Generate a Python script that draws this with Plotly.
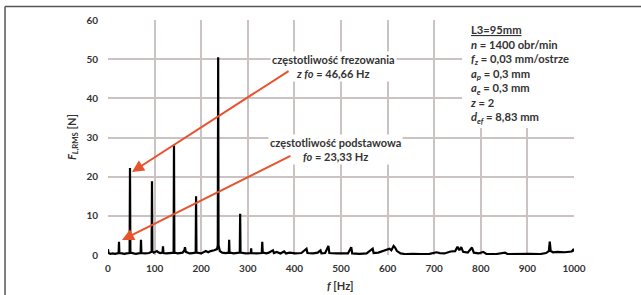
import plotly.graph_objects as go

# Spectrum data (frequency [Hz], amplitude F_L,RMS [N])
freq = [0, 1, 5, 10, 15, 20, 22.8, 23.6, 24.4, 30, 35, 40, 46.4, 47.2, 48, 55, 60, 65, 70, 70.8, 71.6,
        80, 88, 93.6, 94.4, 95.2, 98, 105, 108, 112, 117, 118, 119, 125, 132, 140.8, 141.6, 142.4,
        150, 160, 164, 165.2, 167, 175, 182, 188.2, 189, 189.8, 200, 205, 210, 215, 220, 228, 234,
        235.6, 236.4, 237.2, 240, 245, 252, 259.2, 260, 260.8, 270, 276, 282.8, 283.6, 284.4, 295,
        306.5, 307.2, 308, 318, 330, 331, 332, 340, 345, 354, 356, 362, 370, 378, 382, 390, 402, 415,
        426, 428, 440, 450, 456, 458, 466, 473, 475, 490, 505, 515, 522, 524, 540, 555, 568, 570,
        580, 590, 598, 604, 608, 613, 616, 620, 628, 640, 655, 670, 690, 705, 712, 722, 735, 745,
        750, 754, 758, 762, 772, 781, 785, 795, 805, 812, 830, 852, 858, 880, 905, 925, 940, 946,
        948, 950, 955, 965, 980, 995, 998, 1000]
amp = [1.5, 0.5, 0.3, 0.4, 0.3, 0.4, 0.5, 3.4, 0.5, 0.4, 0.3, 0.4, 0.5, 22.2, 0.6, 0.4, 0.3, 0.4, 0.5, 3.9, 0.5,
       0.4, 0.5, 0.8, 18.8, 1.0, 0.6, 1.0, 0.7, 0.5, 0.6, 2.2, 0.5, 0.4, 0.5, 0.6, 28.0, 0.6,
       0.4, 0.6, 1.2, 2.0, 0.8, 0.4, 0.5, 0.6, 15.0, 0.6, 0.4, 0.8, 1.0, 0.7, 1.0, 1.2, 1.5,
       2.5, 50.5, 2.5, 1.0, 0.6, 0.5, 0.6, 3.9, 0.6, 0.4, 0.5, 0.6, 10.5, 0.6, 0.4,
       0.5, 1.7, 0.5, 0.4, 0.5, 3.4, 0.6, 0.4, 0.6, 1.2, 0.5, 0.8, 0.4, 0.9, 0.4, 0.6, 0.4, 0.5,
       1.6, 0.5, 0.4, 0.6, 1.2, 0.4, 0.5, 2.3, 0.5, 0.4, 0.3, 0.4, 2.0, 0.4, 0.3, 0.4, 1.6, 0.5,
       0.6, 1.0, 1.3, 1.6, 1.2, 2.3, 1.9, 1.0, 0.4, 0.2, 0.3, 0.2, 0.3, 0.7, 0.5, 0.4, 0.9, 1.0,
       2.1, 1.2, 2.0, 0.8, 0.6, 1.9, 0.6, 0.4, 0.8, 0.3, 0.2, 0.6, 0.2, 0.3, 0.3, 0.2, 0.5, 1.0,
       3.4, 1.0, 0.7, 0.8, 0.7, 0.9, 1.3, 0.9]

x_ticks = [0, 100, 200, 300, 400, 500, 600, 700, 800, 900, 1000]
y_ticks = [0, 10, 20, 30, 40, 50, 60]

params = ["<u>L3=95mm</u>",
          "<i>n</i> = 1400 obr/min",
          "<i>f</i><sub><i>z</i></sub> = 0,03 mm/ostrze",
          "<i>a</i><sub><i>p</i></sub> = 0,3 mm",
          "<i>a</i><sub><i>e</i></sub> = 0,3 mm",
          "<i>z</i> = 2",
          "<i>d</i><sub><i>ef</i></sub> = 8,83 mm"]

FONT = "Lato"
TXT = "#333333"
GRID = "#cbc2c2"
RED = "#e8532e"

fig = go.Figure()
fig.add_trace(go.Scatter(x=freq, y=amp, mode="lines",
                         line=dict(color="black", width=2.2), hoverinfo="skip"))

fig.update_layout(
    width=641, height=295,
    margin=dict(l=108, r=67, t=20, b=40),
    paper_bgcolor="white", plot_bgcolor="white",
    showlegend=False,
    font=dict(family=FONT, color=TXT),
    xaxis=dict(range=[0, 1000], tickvals=x_ticks, showgrid=True, gridcolor=GRID, gridwidth=1.8,
               zeroline=False, showline=False, ticks="", ticklabelstandoff=6,
               tickfont=dict(family=FONT, size=10, color=TXT, weight="bold")),
    yaxis=dict(range=[0, 60], tickvals=y_ticks, showgrid=True, gridcolor=GRID, gridwidth=1.8,
               zeroline=False, showline=False, ticks="", ticklabelstandoff=9,
               tickfont=dict(family=FONT, size=10, color=TXT, weight="bold")),
)

# white box behind parameter text (covers gridlines)
fig.add_shape(type="rect", xref="paper", yref="paper", x0=0.7597, x1=1.02, y0=0.54, y1=1.03,
              fillcolor="white", line=dict(width=0), layer="above")

# outer frame (left and top)
fig.add_shape(type="line", xref="paper", yref="paper", x0=-0.221, x1=-0.221, y0=-0.2, y1=1.057,
              line=dict(color="#555555", width=1.5))
fig.add_shape(type="line", xref="paper", yref="paper", x0=-0.221, x1=1.2, y0=1.057, y1=1.057,
              line=dict(color="#555555", width=1.5))

fig.add_annotation(xref="paper", yref="paper", x=0.7725, y=0.997, xanchor="left", yanchor="top",
                   align="left", showarrow=False, text="<br>".join(params),
                   font=dict(family=FONT, size=11.2, color=TXT, weight="bold"))

# labels with white background
fig.add_annotation(x=483, y=48.1, showarrow=False, bgcolor="white", align="center",
                   text="częstotliwość frezowania<br><i>z fo</i> = 46,66 Hz",
                   font=dict(family=FONT, size=11, color=TXT, weight="bold"))
fig.add_annotation(x=489, y=26.9, showarrow=False, bgcolor="white", align="center",
                   text="częstotliwość podstawowa<br><i>fo</i> = 23,33 Hz",
                   font=dict(family=FONT, size=11, color=TXT, weight="bold"))

# arrows
fig.add_annotation(x=51.5, y=21.2, ax=390.6, ay=47.2, axref="x", ayref="y", text="",
                   showarrow=True, arrowhead=2, arrowsize=1.2, arrowwidth=2, arrowcolor=RED)
fig.add_annotation(x=30, y=3.8, ax=394.8, ay=25.5, axref="x", ayref="y", text="",
                   showarrow=True, arrowhead=2, arrowsize=1.2, arrowwidth=2, arrowcolor=RED)

# axis titles
fig.add_annotation(xref="paper", yref="paper", x=-0.0773, y=0.502, xanchor="center", yanchor="middle",
                   textangle=-90, showarrow=False,
                   text="<i>F</i><sub><i>L</i>,RMS</sub> [N]",
                   font=dict(family=FONT, size=11, color=TXT, weight="bold"))
fig.add_annotation(xref="paper", yref="paper", x=0.498, y=-0.128, xanchor="center", yanchor="middle",
                   showarrow=False,
                   text="<i>f</i> [Hz]",
                   font=dict(family=FONT, size=11, color=TXT, weight="bold"))

fig.write_html("out.html", config={"displayModeBar": False},
               post_script="document.body.style.margin='0px';document.body.style.overflow='hidden';")
